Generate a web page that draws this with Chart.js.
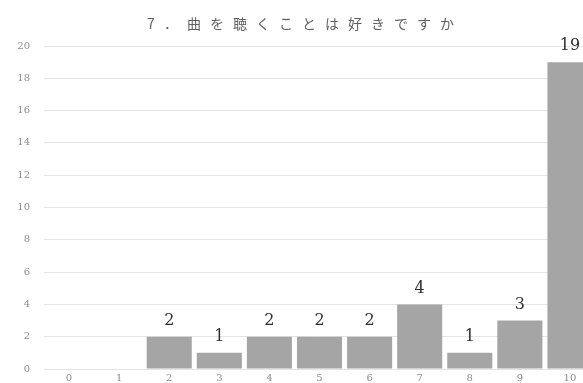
<!DOCTYPE html>
<html>
<head>
<meta charset="utf-8">
<script src="https://cdn.jsdelivr.net/npm/chart.js@4/dist/chart.umd.min.js"></script>
<style>
  html, body { margin: 0; padding: 0; overflow: hidden; background: #fff; }
  #wrap { width: 602px; height: 383px; }
</style>
</head>
<body>
<div id="wrap"><canvas id="likeChart" width="602" height="383"></canvas></div>
<script>
const chartTitle = "7．曲を聴くことは好きですか";
const scores = ["0", "1", "2", "3", "4", "5", "6", "7", "8", "9", "10"];
const counts = [0, 0, 2, 1, 2, 2, 2, 4, 1, 3, 19];
const yTicks = [0, 2, 4, 6, 8, 10, 12, 14, 16, 18, 20];

const serif = '"DejaVu Serif", "Liberation Serif", serif';

// Title with wide letter spacing, drawn by hand
const titlePlugin = {
  id: "spacedTitle",
  afterDraw(chart) {
    const ctx = chart.ctx;
    ctx.save();
    ctx.font = '14px "Noto Sans CJK JP", sans-serif';
    ctx.letterSpacing = "9px";
    ctx.fillStyle = "#5f5f5f";
    ctx.textAlign = "center";
    ctx.textBaseline = "middle";
    ctx.fillText(chartTitle, chart.width / 2 + 4, 24);
    ctx.restore();
  },
};

// Count printed above each non-empty bar
const valueLabels = {
  id: "valueLabels",
  afterDatasetsDraw(chart) {
    const ctx = chart.ctx;
    const meta = chart.getDatasetMeta(0);
    ctx.save();
    ctx.font = "16px " + serif;
    ctx.fillStyle = "#303030";
    ctx.textAlign = "center";
    ctx.textBaseline = "middle";
    meta.data.forEach((bar, i) => {
      const v = counts[i];
      if (!v) return;
      ctx.fillText(String(v), bar.x, bar.y - 16);
    });
    ctx.restore();
  },
};

const ctx = document.getElementById("likeChart").getContext("2d");
new Chart(ctx, {
  type: "bar",
  data: {
    labels: scores,
    datasets: [
      {
        data: counts,
        backgroundColor: "#a5a5a5",
        borderWidth: 0,
        barPercentage: 0.9,
        categoryPercentage: 1,
      },
    ],
  },
  options: {
    responsive: false,
    animation: false,
    layout: { padding: { top: 46, right: 7, left: 0, bottom: 0 } },
    scales: {
      x: {
        grid: { display: false, drawTicks: false },
        border: { display: false },
        ticks: {
          color: "#8c8c8c",
          font: { family: serif, size: 10 },
          padding: 3,
          maxRotation: 0,
          autoSkip: false,
        },
        afterFit(scale) {
          scale.height = 14;
          scale.paddingLeft = 0;
          scale.paddingRight = 0;
        },
      },
      y: {
        min: 0,
        max: yTicks[yTicks.length - 1],
        afterBuildTicks(scale) {
          scale.ticks = yTicks.map((v) => ({ value: v }));
        },
        grid: { color: "#e4e4e4", drawTicks: false },
        border: { display: false },
        ticks: {
          color: "#8c8c8c",
          font: { family: serif, size: 10 },
          padding: 14,
        },
        afterFit(scale) {
          scale.width = 44;
          scale.paddingTop = 0;
          scale.paddingBottom = 0;
        },
      },
    },
    plugins: {
      legend: { display: false },
      title: { display: false },
      tooltip: { enabled: false },
    },
  },
  plugins: [titlePlugin, valueLabels],
});
</script>
</body>
</html>
